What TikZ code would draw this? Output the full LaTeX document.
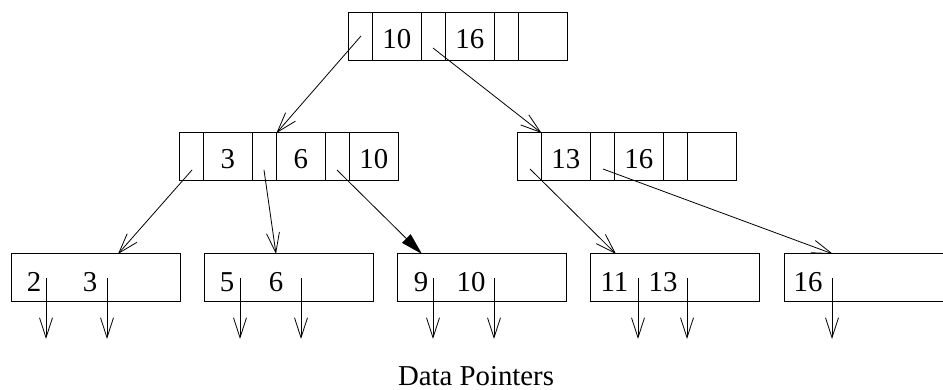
\documentclass[tikz,border=0pt]{standalone}
\usepackage{fontspec}
\setmainfont{Liberation Serif}
\usetikzlibrary{arrows.meta}
\begin{document}
\begin{tikzpicture}[x=1pt,y=-1pt,
  font=\fontsize{28.8}{32}\selectfont,
  bcell/.style={draw, line width=1pt, minimum height=48pt, inner sep=0pt, outer sep=0pt, anchor=west, text height=24pt, text depth=0pt},
  pcell/.style={bcell, minimum width=24.5pt},
  kcell/.style={bcell, minimum width=48.5pt},
  leafbox/.style={draw, line width=1pt, minimum width=169pt, minimum height=48pt, inner sep=0pt, outer sep=0pt, anchor=north west},
  lbl/.style={anchor=base, inner sep=0pt},
  ptr/.style={line width=0.8pt, -{Straight Barb[length=20pt,width=13pt,line width=0.8pt]}},
  fptr/.style={line width=0.8pt, -{Triangle[length=22pt,width=12pt]}}]
\useasboundingbox (0,0) rectangle (943,390);

% top node
\node[pcell] (t0) at (348,37) {};
\node[kcell] (t1) at (t0.east) {10};
\node[pcell] (t2) at (t1.east) {};
\node[kcell] (t3) at (t2.east) {16};
\node[pcell] (t4) at (t3.east) {};
\node[kcell] (t5) at (t4.east) {};

% middle left
\node[pcell] (m0) at (179,157) {};
\node[kcell] (m1) at (m0.east) {3};
\node[pcell] (m2) at (m1.east) {};
\node[kcell] (m3) at (m2.east) {6};
\node[pcell] (m4) at (m3.east) {};
\node[kcell] (m5) at (m4.east) {10};

% middle right
\node[pcell] (r0) at (517,157) {};
\node[kcell] (r1) at (r0.east) {13};
\node[pcell] (r2) at (r1.east) {};
\node[kcell] (r3) at (r2.east) {16};
\node[pcell] (r4) at (r3.east) {};
\node[kcell] (r5) at (r4.east) {};

% leaves
\node[leafbox] (L1) at (11,254) {};
\node[leafbox] (L2) at (204,254) {};
\node[leafbox] (L3) at (397,254) {};
\node[leafbox] (L4) at (590,254) {};
\node[leafbox, draw=none, minimum width=159pt] (L5) at (784,254) {};
\draw[line width=1pt] (L5.north east) -- (L5.north west) -- (L5.south west) -- (L5.south east);

% leaf keys
\node[lbl] (k1) at (34,291) {2};
\node[lbl] (k2) at (90,291) {3};
\node[lbl] (k3) at (227,291) {5};
\node[lbl] (k4) at (276,291) {6};
\node[lbl] (k5) at (421,291) {9};
\node[lbl] (k6) at (471,291) {10};
\node[lbl] (k7) at (614.5,291) {11};
\node[lbl] (k8) at (663,291) {13};
\node[lbl] (k9) at (808,291) {16};

% data pointers
\foreach \i/\x in {1/46,2/107,3/240,4/301,5/433,6/494,7/638,8/687,9/832}{
  \coordinate (ds\i) at (\x,278);
  \coordinate (de\i) at (\x,339);
  \draw[ptr] (ds\i) -- (de\i);
}

% tree pointers
\coordinate (tp0) at (361,36);
\coordinate (tp2) at (433,48);
\draw[ptr] (tp0) -- (m2.north east);
\draw[ptr] (tp2) -- (r0.north east);

\coordinate (mp0) at (192,170);
\coordinate (mp2) at (264,170);
\coordinate (mp4) at (337,170);
\coordinate (L1t) at (118,254);
\coordinate (L2t) at (276,254);
\coordinate (L3t) at (422,254);
\draw[ptr] (mp0) -- (L1t);
\draw[ptr] (mp2) -- (L2t);
\draw[fptr] (mp4) -- (L3t);

\coordinate (rp0) at (530,169);
\coordinate (rp2) at (603,169);
\coordinate (L4t) at (616,254);
\coordinate (L5t) at (833,254);
\draw[ptr] (rp0) -- (L4t);
\draw[ptr] (rp2) -- (L5t);

\node[lbl] (dp) at (476,385) {Data Pointers};
\end{tikzpicture}
\end{document}
